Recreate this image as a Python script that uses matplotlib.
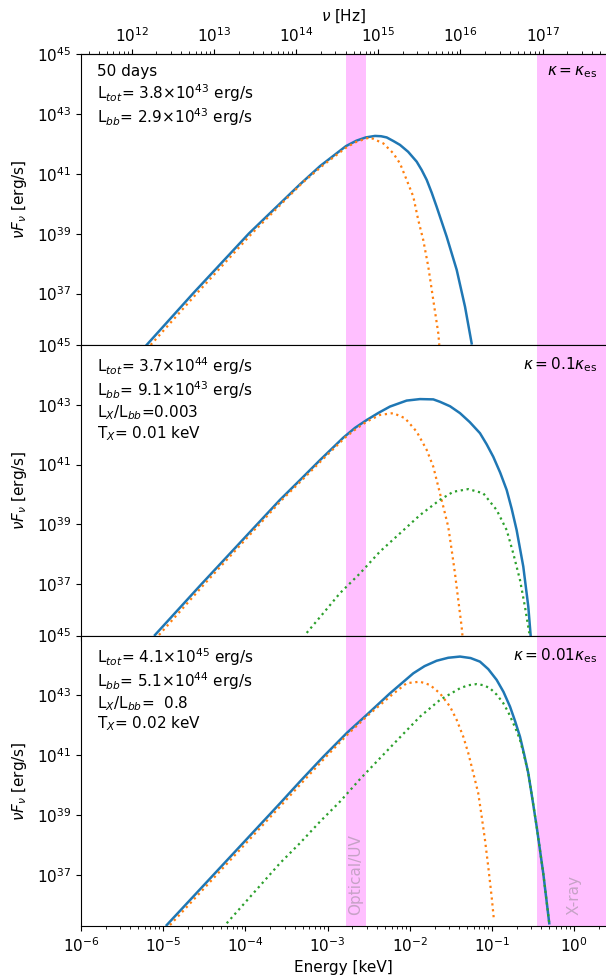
import numpy as np
import matplotlib
matplotlib.use("Agg")
import matplotlib.pyplot as plt
import matplotlib.ticker as mticker
import matplotlib.transforms as mtransforms

# ---------------- data (log10 E [keV], log10 nuF_nu [erg/s]) ----------------
# panel 1 : kappa = kappa_es
p1_tot_logE = [-5.201, -4.634, -3.956, -3.336, -3.092, -2.776, -2.65, -2.536, -2.423, -2.35, -2.281,
               -2.20, -2.119, -2.02, -1.916, -1.855, -1.794, -1.733, -1.673, -1.551, -1.429, -1.328, -1.247]
p1_tot_logL = [35.28, 37.01, 39.01, 40.65, 41.26, 41.93, 42.11, 42.22, 42.27, 42.26, 42.22,
               42.10, 41.97, 41.74, 41.41, 41.13, 40.80, 40.37, 39.90, 38.90, 37.79, 36.56, 35.33]
p1_bb_logE = [-5.152, -4.589, -3.92, -3.311, -3.05, -2.764, -2.65, -2.533, -2.484, -2.322, -2.201, -2.119,
              -2.038, -1.957, -1.897, -1.836, -1.775, -1.714, -1.653, -1.641]
p1_bb_logL = [35.28, 37.01, 39.01, 40.69, 41.30, 41.90, 42.07, 42.18, 42.22, 42.02, 41.69, 41.35,
              40.80, 40.24, 39.46, 38.79, 37.90, 36.78, 35.67, 35.28]

# panel 2 : kappa = 0.1 kappa_es
p2_tot_logE = [-5.100, -4.545, -3.864, -3.579, -3.336, -3.092, -2.809, -2.665, -2.524, -2.38,
               -2.241, -2.038, -1.876, -1.714, -1.633, -1.51, -1.389, -1.27, -1.146, -1.065,
               -0.984, -0.90, -0.821, -0.76, -0.700, -0.619, -0.558, -0.529]
p2_tot_logL = [35.30, 36.97, 38.98, 39.82, 40.48, 41.15, 41.90, 42.23, 42.49, 42.73,
               42.94, 43.14, 43.19, 43.18, 43.10, 42.95, 42.72, 42.42, 42.05, 41.68,
               41.26, 40.73, 40.15, 39.52, 38.81, 37.59, 36.25, 35.27]
p2_bb_logE = [-5.051, -4.510, -3.835, -3.555, -3.311, -3.068, -2.788, -2.650, -2.521, -2.363,
              -2.201, -2.058, -1.916, -1.794, -1.714, -1.653, -1.592, -1.532, -1.490, -1.450,
              -1.410, -1.369, -1.359]
p2_bb_logL = [35.30, 36.97, 38.98, 39.82, 40.48, 41.15, 41.90, 42.20, 42.44, 42.66,
              42.72, 42.55, 42.10, 41.49, 40.93, 40.26, 39.59, 38.92, 38.14, 37.36,
              36.47, 35.58, 35.27]
p2_x_logE = [-3.254, -3.052, -2.849, -2.606, -2.363, -2.119, -1.876, -1.633, -1.471, -1.288,
             -1.106, -0.943, -0.821, -0.741, -0.659, -0.599, -0.546]
p2_x_logL = [35.37, 36.03, 36.70, 37.36, 38.09, 38.70, 39.31, 39.82, 40.09, 40.18,
             40.04, 39.48, 38.81, 38.03, 37.14, 36.25, 35.36]

# panel 3 : kappa = 0.01 kappa_es
p3_tot_logE = [-4.957, -3.579, -3.336, -3.052, -2.768, -2.524, -2.241, -1.957, -1.82, -1.673,
               -1.532, -1.389, -1.26, -1.146, -1.045, -0.943, -0.86, -0.781, -0.72, -0.659,
               -0.61, -0.558, -0.51, -0.456, -0.376, -0.303]
p3_tot_logL = [35.32, 39.39, 40.12, 40.95, 41.74, 42.35, 43.07, 43.74, 43.98, 44.16,
               44.26, 44.30, 44.25, 44.13, 43.88, 43.52, 43.12, 42.63, 42.15, 41.62,
               41.05, 40.40, 39.57, 38.61, 37.05, 35.38]
p3_bb_logE = [-4.917, -3.543, -3.299, -3.019, -2.740, -2.502, -2.217, -2.038, -1.876, -1.754,
              -1.633, -1.511, -1.429, -1.349, -1.288, -1.227, -1.167, -1.125, -1.085, -1.045,
              -1.004, -0.976]
p3_bb_logL = [35.32, 39.39, 40.12, 40.95, 41.74, 42.35, 43.02, 43.41, 43.46, 43.35,
              43.07, 42.63, 42.18, 41.62, 41.07, 40.40, 39.73, 38.95, 38.17, 37.27,
              36.27, 35.49]
p3_x_logE = [-4.227, -3.579, -3.336, -3.092, -2.849, -2.606, -2.363, -2.119, -1.876, -1.633,
             -1.389, -1.29, -1.186, -1.10, -1.024, -0.94, -0.862, -0.80, -0.741, -0.70, -0.659,
             -0.61, -0.558, -0.51, -0.456, -0.376, -0.303]
p3_x_logL = [35.38, 37.39, 38.06, 38.78, 39.45, 40.20, 40.90, 41.60, 42.29, 42.85,
             43.24, 43.34, 43.38, 43.34, 43.24, 43.02, 42.74, 42.43, 42.07, 41.81, 41.51,
             41.00, 40.40, 39.57, 38.61, 37.05, 35.38]

panel_texts = [
    "50 days\nL$_{tot}$= 3.8$\\times$10$^{43}$ erg/s\nL$_{bb}$= 2.9$\\times$10$^{43}$ erg/s",
    "L$_{tot}$= 3.7$\\times$10$^{44}$ erg/s\nL$_{bb}$= 9.1$\\times$10$^{43}$ erg/s\nL$_X$/L$_{bb}$=0.003\nT$_X$= 0.01 keV",
    "L$_{tot}$= 4.1$\\times$10$^{45}$ erg/s\nL$_{bb}$= 5.1$\\times$10$^{44}$ erg/s\nL$_X$/L$_{bb}$=  0.8\nT$_X$= 0.02 keV",
]
kappa_texts = [r"$\kappa = \kappa_{\rm es}$", r"$\kappa = 0.1\kappa_{\rm es}$", r"$\kappa = 0.01\kappa_{\rm es}$"]

optuv_band = [1.67e-3, 2.91e-3]   # keV
xray_band = [0.35, 10.0]          # keV
xlim = [1e-6, 2.44]
ylim = [1.9e35, 1e45]
yticks = [1e37, 1e39, 1e41, 1e43, 1e45]
xticks = [1e-6, 1e-5, 1e-4, 1e-3, 1e-2, 1e-1, 1e0]
nuticks = [1e12, 1e13, 1e14, 1e15, 1e16, 1e17]
KEV_TO_HZ = 2.418e17

panels = [
    dict(tot=(p1_tot_logE, p1_tot_logL), bb=(p1_bb_logE, p1_bb_logL), x=None),
    dict(tot=(p2_tot_logE, p2_tot_logL), bb=(p2_bb_logE, p2_bb_logL), x=(p2_x_logE, p2_x_logL)),
    dict(tot=(p3_tot_logE, p3_tot_logL), bb=(p3_bb_logE, p3_bb_logL), x=(p3_x_logE, p3_x_logL)),
]

plt.rcParams['font.family'] = ['DejaVu Sans']
plt.rcParams['font.size'] = 11
plt.rcParams['mathtext.fontset'] = 'dejavusans'

fig = plt.figure(figsize=(6.06, 9.8), dpi=100)
gs = fig.add_gridspec(3, 1, left=81/606, right=1.0, top=1-54.3/980, bottom=1-926.3/980, hspace=0)
axes = [fig.add_subplot(gs[i]) for i in range(3)]

for i, (ax, p) in enumerate(zip(axes, panels)):
    ax.set_xscale('log')
    ax.set_yscale('log')
    ax.axvspan(*optuv_band, color='magenta', alpha=0.25, lw=0)
    ax.axvspan(*xray_band, color='magenta', alpha=0.25, lw=0)
    E, L = p['tot']
    ax.plot(10**np.array(E), 10**np.array(L), color='C0', lw=1.8, zorder=3)
    E, L = p['bb']
    ax.plot(10**np.array(E), 10**np.array(L), color='C1', lw=1.6, ls=':', zorder=4)
    if p['x'] is not None:
        E, L = p['x']
        ax.plot(10**np.array(E), 10**np.array(L), color='C2', lw=1.6, ls=':', zorder=4)
    ax.set_xlim(*xlim)
    ax.set_ylim(*ylim)
    ax.set_yticks(yticks)
    ax.yaxis.set_minor_locator(mticker.NullLocator())
    ax.set_ylabel(r"$\nu F_\nu$ [erg/s]", labelpad=6)
    ax.spines['right'].set_visible(False)
    ax.text(0.03, 0.965, panel_texts[i], transform=ax.transAxes, va='top', ha='left',
            linespacing=1.15)
    ax.text(0.983, 0.965, kappa_texts[i], transform=ax.transAxes, va='top', ha='right')
    ax.xaxis.set_major_locator(mticker.FixedLocator(xticks))
    ax.xaxis.set_minor_locator(mticker.LogLocator(base=10, subs=np.arange(2, 10), numticks=20))
    ax.xaxis.set_minor_formatter(mticker.NullFormatter())
    if i < 2:
        ax.tick_params(axis='x', which='both', labelbottom=False)

axes[2].set_xlabel("Energy [keV]")

trans = mtransforms.blended_transform_factory(axes[2].transData, axes[2].transAxes)
axes[2].text(np.sqrt(optuv_band[0]*optuv_band[1]), 0.039, "Optical/UV", rotation=90,
             transform=trans, ha='center', va='bottom', color='gray', alpha=0.45)
axes[2].text(1.0, 0.039, "X-ray", rotation=90,
             transform=trans, ha='center', va='bottom', color='gray', alpha=0.45)

sec = axes[0].secondary_xaxis('top', functions=(lambda e: e*KEV_TO_HZ, lambda n: n/KEV_TO_HZ))
sec.xaxis.set_major_locator(mticker.FixedLocator(nuticks))
sec.xaxis.set_major_formatter(mticker.LogFormatterSciNotation())
sec.xaxis.set_minor_locator(mticker.LogLocator(base=10, subs=np.arange(2, 10), numticks=20))
sec.xaxis.set_minor_formatter(mticker.NullFormatter())
sec.set_xlabel(r"$\nu$ [Hz]")

fig.savefig("out.png", dpi=100)
